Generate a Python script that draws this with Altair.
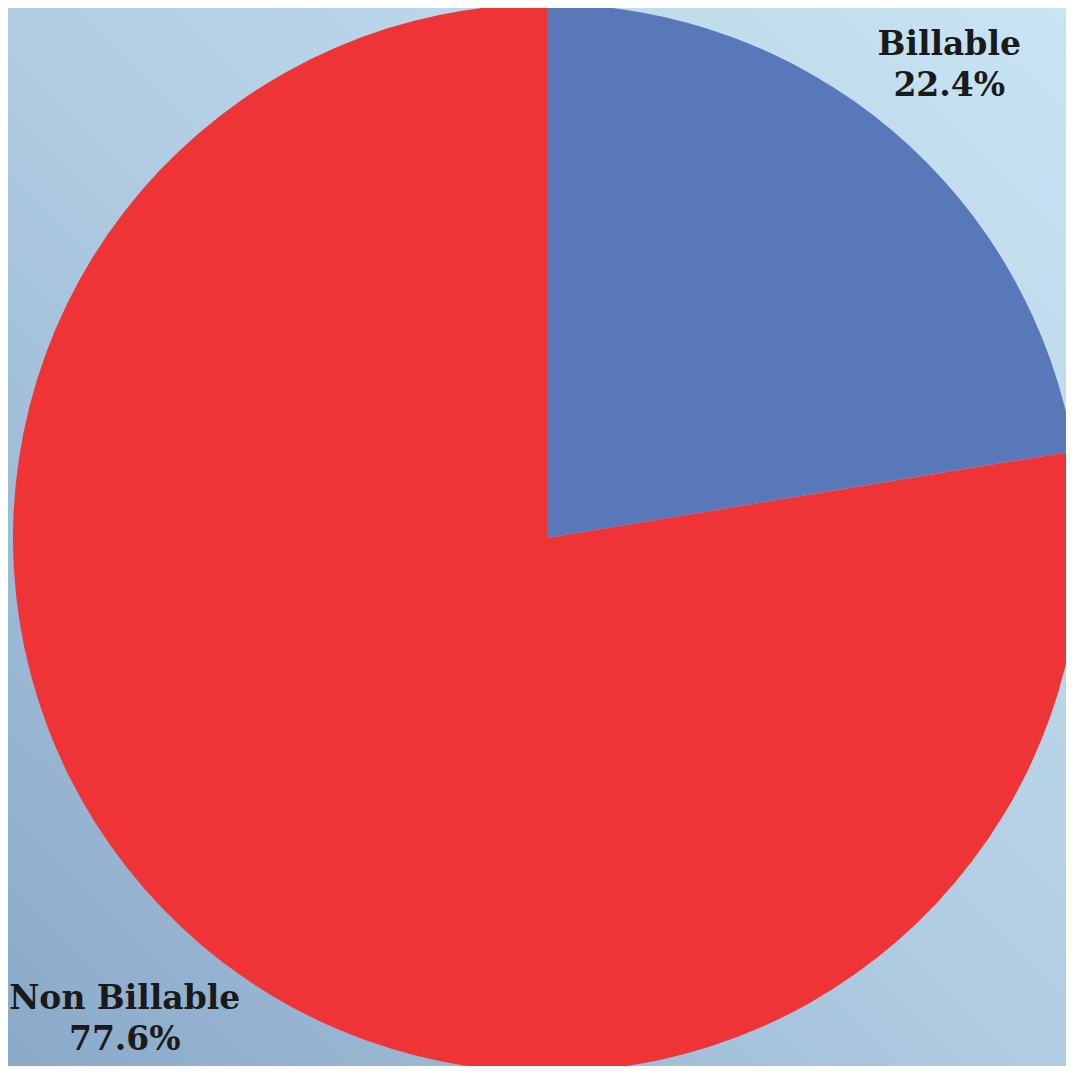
import altair as alt
import pandas as pd

categories = ["Billable", "Non Billable"]
shares = [22.4, 77.6]
colors = ["#5878ba", "#ee3437"]

df = pd.DataFrame({"cat": categories, "pct": shares, "order": [0, 1]})

W = 1058
H = 1058
CX, CY, R = 539, 530, 534

bg = alt.Chart(pd.DataFrame({"a": [0]})).mark_rect(
    color=alt.LinearGradient(
        gradient="linear", x1=1, y1=0, x2=0, y2=1,
        stops=[alt.GradientStop(color="#c9e4f2", offset=0),
               alt.GradientStop(color="#b0cde3", offset=0.5),
               alt.GradientStop(color="#8aa9c9", offset=1)]
    )
).encode(x=alt.value(0), x2=alt.value(W), y=alt.value(0), y2=alt.value(H))

base = alt.Chart(df).encode(
    theta=alt.Theta("pct:Q", stack=True),
    order=alt.Order("order:Q"),
)

pie = base.mark_arc(stroke=None, outerRadius=R).encode(
    color=alt.Color("cat:N", scale=alt.Scale(domain=categories, range=colors), legend=None),
    x=alt.value(CX), y=alt.value(CY),
)

lab = base.transform_calculate(
    label="[datum.cat, format(datum.pct, '.1f') + '%']"
)

txt_font = dict(font="DejaVu Serif", fontSize=33, fontWeight="bold", color="#1a1a1a",
                align="center", baseline="middle", lineHeight=41)

t1 = lab.mark_text(radius=636, thetaOffset=-0.019, **txt_font).encode(
    x=alt.value(CX), y=alt.value(CY),
    text=alt.condition(alt.datum.cat == "Billable", alt.Text("label:N"), alt.value("")),
)
t2 = lab.mark_text(radius=625, thetaOffset=0.038, **txt_font).encode(
    x=alt.value(CX), y=alt.value(CY),
    text=alt.condition(alt.datum.cat == "Non Billable", alt.Text("label:N"), alt.value("")),
)

chart = alt.layer(bg, pie, t1, t2).properties(
    width=W, height=H, padding=0, autosize=alt.AutoSizeParams(type="none"),
    background="#b0cde3",
).configure_view(stroke=None)

chart.save("out.html", embed_options={"renderer": "svg", "actions": False})
